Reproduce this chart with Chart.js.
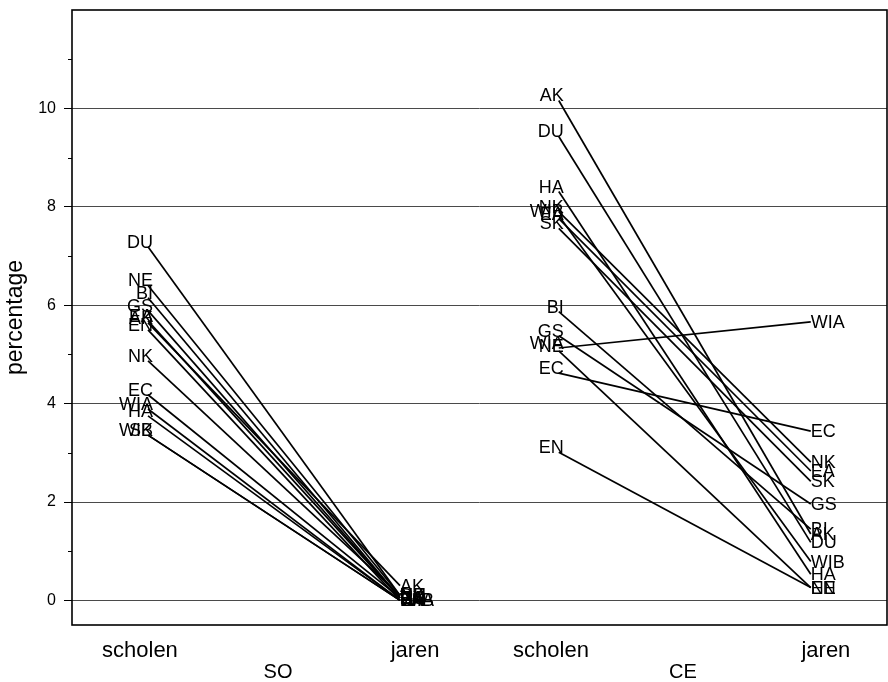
<!DOCTYPE html>
<html lang="nl">
<head>
    <meta charset="UTF-8">
    <title>percentage scholen / jaren</title>
    <script src="https://cdn.jsdelivr.net/npm/chart.js"></script>
    <style>
        html, body { margin: 0; padding: 0; background: #fff; }
        #wrap { width: 888px; height: 682px; }
    </style>
</head>
<body>
<div id="wrap"><canvas id="slopeChart"></canvas></div>
<script>
    // vakken (labels bij elk punt)
    const vakken = ['AK', 'BI', 'DU', 'EA', 'EC', 'EN', 'GS', 'HA', 'NE', 'NK', 'SK', 'WIA', 'WIB'];

    // SO: scholen en jaren
    const soScholen = [5.64, 6.15, 7.19, 5.68, 4.18, 5.50, 5.89, 3.75, 6.40, 4.87, 3.36, 3.89, 3.36];
    const soJaren   = [0.30, 0.05, 0.10, 0.05, 0.05, 0.00, 0.05, 0.00, 0.10, 0.10, 0.00, 0.00, 0.00];

    // CE: scholen en jaren
    const ceScholen = [10.16, 5.87, 9.43, 7.76, 4.62, 3.01, 5.38, 8.31, 5.07, 7.90, 7.56, 5.13, 7.82];
    const ceJaren   = [1.35, 1.45, 1.18, 2.63, 3.44, 0.26, 1.96, 0.53, 0.26, 2.81, 2.42, 5.66, 0.79];

    // as-labels
    const tickLabels  = ['scholen', 'jaren', 'scholen', 'jaren'];
    const groepLabels = ['SO', 'CE'];
    const yMajor = [0, 2, 4, 6, 8, 10];
    const yMinor = [1, 3, 5, 7, 9, 11];

    // posities op de x-as
    const xPunt  = { soS: 1, soJ: 2, ceS: 2.63, ceJ: 3.63 };
    const xTicks = [0.968, 2.06, 2.599, 3.69];
    const xGroep = [1.516, 3.123];

    const FONT = '"Liberation Sans", Arial, sans-serif';

    var datasets = [];
    for (var i = 0; i < vakken.length; i++) {
        datasets.push({
            label: vakken[i],
            data: [{x: xPunt.soS, y: soScholen[i]}, {x: xPunt.soJ, y: soJaren[i]}]
        });
        datasets.push({
            label: vakken[i],
            data: [{x: xPunt.ceS, y: ceScholen[i]}, {x: xPunt.ceJ, y: ceJaren[i]}]
        });
    }

    // labels bij de punten, kader, kleine streepjes en groepsnamen
    const extraTekst = {
        id: 'extraTekst',
        afterDatasetsDraw(chart) {
            const ctx = chart.ctx;
            ctx.save();
            ctx.fillStyle = '#000';
            ctx.font = '18px ' + FONT;
            ctx.textBaseline = 'middle';
            chart.data.datasets.forEach(function (ds, di) {
                const pts = chart.getDatasetMeta(di).data;
                ctx.textAlign = 'right';
                ctx.fillText(ds.label, pts[0].x + 5, pts[0].y - 4);
                ctx.textAlign = 'left';
                ctx.fillText(ds.label, pts[1].x, pts[1].y + 1);
            });
            ctx.restore();
        },
        afterDraw(chart) {
            const ctx = chart.ctx;
            const a = chart.chartArea;
            const y = chart.scales.y;
            const x = chart.scales.x;
            ctx.save();
            ctx.strokeStyle = '#000';
            ctx.lineWidth = 1.6;
            ctx.strokeRect(a.left, a.top, a.right - a.left, a.bottom - a.top);
            // kleine streepjes
            ctx.lineWidth = 1;
            yMinor.forEach(function (v) {
                const py = Math.round(y.getPixelForValue(v)) + 0.5;
                ctx.beginPath();
                ctx.moveTo(a.left - 4, py);
                ctx.lineTo(a.left, py);
                ctx.stroke();
            });
            ctx.fillStyle = '#000';
            ctx.font = '20px ' + FONT;
            ctx.textAlign = 'center';
            ctx.textBaseline = 'middle';
            groepLabels.forEach(function (g, i) {
                ctx.fillText(g, x.getPixelForValue(xGroep[i]), 672);
            });
            ctx.restore();
        }
    };

    new Chart(document.getElementById('slopeChart').getContext('2d'), {
        type: 'scatter',
        data: { datasets: datasets },
        plugins: [extraTekst],
        options: {
            animation: false,
            responsive: true,
            maintainAspectRatio: false,
            layout: { padding: { top: 10, right: 1, left: 0, bottom: 0 } },
            plugins: { legend: { display: false }, tooltip: { enabled: false } },
            elements: {
                point: { radius: 0, hoverRadius: 0 },
                line: { borderColor: '#000', borderWidth: 1.7, tension: 0 }
            },
            datasets: { scatter: { showLine: true, borderColor: '#000', borderWidth: 1.7 } },
            scales: {
                x: {
                    type: 'linear',
                    min: 0.6984,
                    max: 3.9325,
                    grid: { display: false, drawTicks: false },
                    border: { display: false },
                    afterBuildTicks: function (s) {
                        s.ticks = xTicks.map(function (v) { return { value: v }; });
                    },
                    afterFit: function (s) { s.height = 57; s.paddingLeft = 0; s.paddingRight = 0; },
                    ticks: {
                        autoSkip: false,
                        maxRotation: 0,
                        padding: 13,
                        color: '#000',
                        font: { family: FONT, size: 22 },
                        callback: function (v, i) { return tickLabels[i]; }
                    }
                },
                y: {
                    min: -0.5,
                    max: 12,
                    afterBuildTicks: function (s) {
                        s.ticks = yMajor.map(function (v) { return { value: v }; });
                    },
                    afterFit: function (s) { s.width = 72; s.paddingTop = 0; s.paddingBottom = 0; },
                    grid: { color: '#4a4a4a', lineWidth: 1, tickColor: '#000', tickLength: 8 },
                    border: { display: false },
                    ticks: {
                        padding: 8,
                        color: '#000',
                        font: { family: FONT, size: 16 },
                        callback: function (v) { return v; }
                    },
                    title: {
                        display: true,
                        text: 'percentage',
                        color: '#000',
                        font: { family: FONT, size: 23 },
                        padding: { top: 2, bottom: 0 }
                    }
                }
            }
        }
    });
</script>
</body>
</html>
